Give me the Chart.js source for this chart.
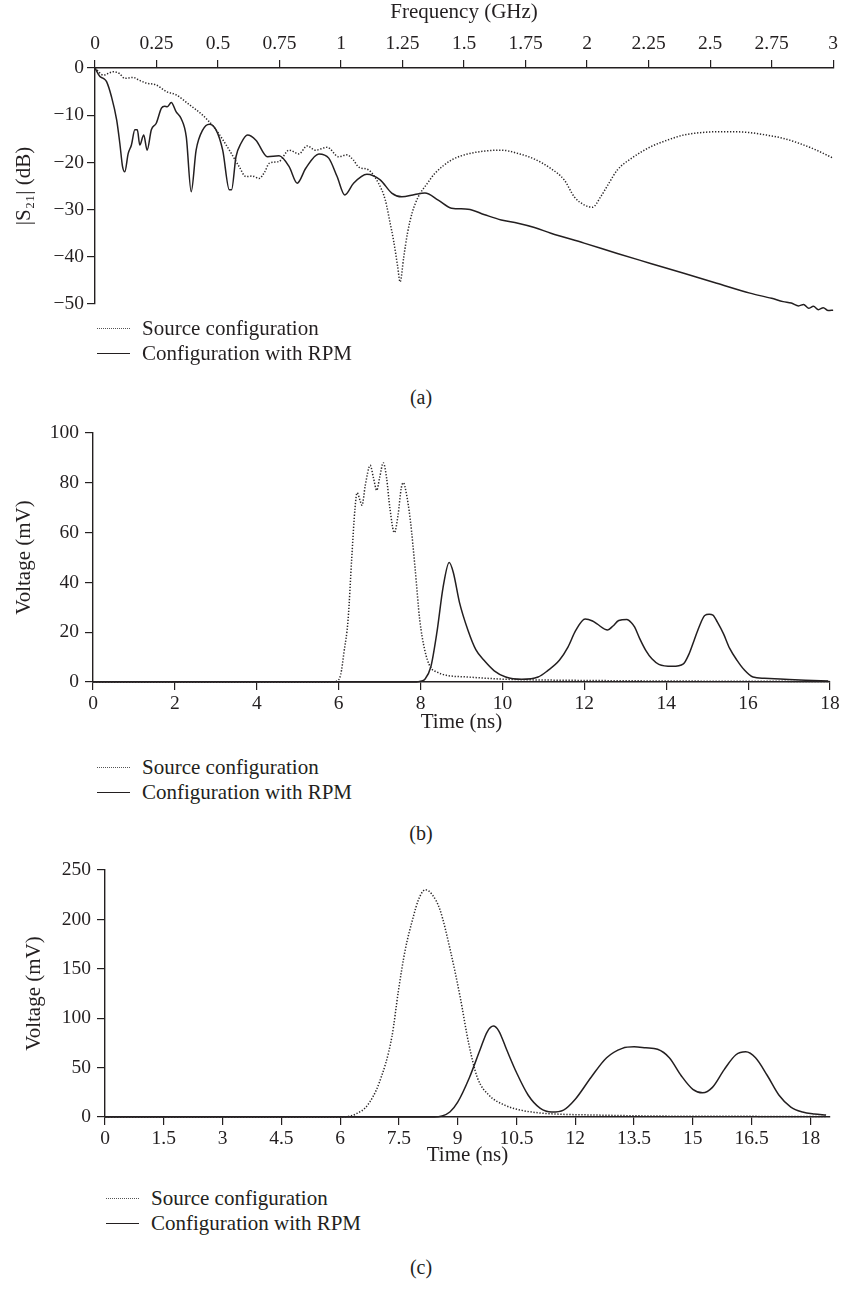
<!DOCTYPE html>
<html>
<head>
<meta charset="utf-8">
<script src="https://cdn.jsdelivr.net/npm/chart.js@4.4.1/dist/chart.umd.min.js"></script>
<style>
  body { margin: 0; background: #fff; }
  #page { position: relative; width: 842px; height: 1291px; font-family: "Liberation Serif", "DejaVu Serif", serif; color: #231f20; }
  canvas { position: absolute; left: 0; }
  .leg { position: absolute; font-size: 21px; line-height: 25px; white-space: nowrap; }
  .leg .row { position: relative; height: 25px; }
  .leg .smp { position: absolute; left: 0; top: 12px; width: 33px; }
  .leg .dot { border-top: 1.5px dotted #555; }
  .leg .sol { border-top: 1.3px solid #231f20; }
  .leg .txt { position: absolute; left: 45px; top: 0; }
  .cap { position: absolute; left: 371px; width: 100px; text-align: center; font-size: 20px; line-height: 25px; }
</style>
</head>
<body>
<div id="page">
  <canvas id="chartA" width="842" height="320" style="top:0"></canvas>
  <canvas id="chartB" width="842" height="330" style="top:410px"></canvas>
  <canvas id="chartC" width="842" height="320" style="top:850px"></canvas>

  <div class="leg" style="left:97px;top:316px">
    <div class="row"><div class="smp dot"></div><span class="txt">Source configuration</span></div>
    <div class="row"><div class="smp sol"></div><span class="txt">Configuration with RPM</span></div>
  </div>
  <div class="cap" style="top:385px">(a)</div>

  <div class="leg" style="left:97px;top:755px">
    <div class="row"><div class="smp dot"></div><span class="txt">Source configuration</span></div>
    <div class="row"><div class="smp sol"></div><span class="txt">Configuration with RPM</span></div>
  </div>
  <div class="cap" style="top:821px">(b)</div>

  <div class="leg" style="left:106px;top:1186px">
    <div class="row"><div class="smp dot"></div><span class="txt">Source configuration</span></div>
    <div class="row"><div class="smp sol"></div><span class="txt">Configuration with RPM</span></div>
  </div>
  <div class="cap" style="top:1255px">(c)</div>
</div>

<script>
const INK = "#231f20";
const FONT = "'Liberation Serif', 'DejaVu Serif', serif";

// (a) |S21| vs frequency
const freqTicks = [0, 0.25, 0.5, 0.75, 1, 1.25, 1.5, 1.75, 2, 2.25, 2.5, 2.75, 3];
const s21Ticks = [0, -10, -20, -30, -40, -50];

const srcFreq = [0, 0.034, 0.074, 0.1, 0.121, 0.155, 0.18, 0.209, 0.249, 0.29, 0.33, 0.384, 0.438, 0.492,
  0.546, 0.586, 0.613, 0.64, 0.667, 0.69, 0.708, 0.748, 0.789, 0.829, 0.862, 0.896, 0.944, 0.99, 1.024,
  1.05, 1.072, 1.112, 1.152, 1.18, 1.2, 1.213, 1.23, 1.24, 1.255, 1.27, 1.29, 1.314, 1.35, 1.382, 1.449,
  1.516, 1.584, 1.651, 1.719, 1.786, 1.853, 1.907, 1.948, 1.988, 2.022, 2.055, 2.09, 2.123, 2.19, 2.258,
  2.325, 2.393, 2.46, 2.527, 2.595, 2.662, 2.729, 2.797, 2.864, 2.932, 3.0];
const srcS21 = [0, -1.5, -0.8, -1.2, -2.2, -2.0, -2.6, -3.2, -3.6, -5.0, -5.7, -7.8, -10, -13.1,
  -17.4, -20.9, -23, -22.9, -23.4, -22, -20.2, -19.8, -17.4, -18.2, -16.5, -17.4, -16.8, -18.8, -18.4,
  -19.5, -21, -21.6, -24.4, -28, -33, -36.4, -42, -45.3, -40, -35, -30.5, -27.3, -24.5, -22.3, -19.5,
  -18.2, -17.6, -17.4, -18.1, -19.3, -21.3, -23.7, -27.3, -29, -29.5, -27.3, -24.3, -21.6, -18.8, -16.7,
  -15.3, -14.2, -13.7, -13.5, -13.5, -13.7, -14.2, -14.9, -16, -17.4, -19.1];

const rpmFreq = [0, 0.02, 0.034, 0.047, 0.067, 0.088, 0.101, 0.112, 0.121, 0.135, 0.148, 0.162, 0.172,
  0.182, 0.198, 0.212, 0.229, 0.249, 0.27, 0.283, 0.294, 0.31, 0.33, 0.35, 0.371, 0.391, 0.411, 0.438,
  0.465, 0.492, 0.519, 0.546, 0.555, 0.573, 0.593, 0.62, 0.654, 0.701, 0.748, 0.789, 0.822, 0.856, 0.91,
  0.95, 0.984, 1.015, 1.051, 1.105, 1.159, 1.206, 1.247, 1.3, 1.341, 1.395, 1.449, 1.516, 1.584, 1.651,
  1.719, 1.786, 1.853, 1.988, 2.123, 2.258, 2.393, 2.527, 2.662, 2.75, 2.797, 2.83, 2.86, 2.88, 2.9,
  2.92, 2.94, 2.96, 2.98, 3.0];
const rpmS21 = [0, -1.8, -2.2, -2.9, -6.1, -11, -16, -20.9, -22, -18.1, -16.3, -13.1, -13.1,
  -16.3, -14.2, -17.4, -13.1, -11.7, -8.5, -8.1, -8.2, -7.3, -9.3, -10.7, -14.6, -26.2, -17.4, -13.1,
  -11.9, -13.1, -17.4, -25.8, -25.8, -18.8, -16, -14.2, -15.3, -18.8, -18.6, -20.9, -24.4, -21.3, -18.2,
  -19.1, -23, -26.9, -24.4, -22.5, -23.7, -26.5, -27.3, -26.8, -26.5, -28, -29.7, -29.9, -31.1, -32.2,
  -32.9, -33.8, -35, -37.1, -39.3, -41.4, -43.5, -45.6, -47.7, -48.8, -49.5, -49.8, -50.4, -50.1, -50.9,
  -50.5, -51.2, -50.8, -51.4, -51.3];

// (b) voltage vs time
const timeTicksB = [0, 2, 4, 6, 8, 10, 12, 14, 16, 18];
const voltTicksB = [0, 20, 40, 60, 80, 100];

const srcTimeB = [0, 5.8, 5.95, 6.05, 6.13, 6.23, 6.32, 6.4, 6.45, 6.52, 6.57, 6.65, 6.77, 6.85, 6.93,
  7.0, 7.09, 7.17, 7.25, 7.36, 7.45, 7.53, 7.58, 7.65, 7.75, 7.87, 7.98, 8.1, 8.24, 8.4, 8.63, 9.16,
  10.08, 11, 12.2, 14, 16, 18];
const srcVoltB = [0, 0, 0.3, 3, 12, 25, 50, 70, 76, 73, 71, 79, 87, 82, 77,
  82, 88, 82, 70, 60, 67, 78, 80, 76, 65, 45, 25, 13, 6, 4, 2.7, 2,
  1.1, 0.8, 0.6, 0.4, 0.3, 0.2];

const rpmTimeB = [0, 7.9, 8.0, 8.1, 8.25, 8.4, 8.55, 8.7, 8.8, 8.95, 9.16, 9.35, 9.55, 9.8, 10.08,
  10.47, 10.87, 11.1, 11.39, 11.6, 11.79, 12.02, 12.2, 12.31, 12.57, 12.7, 12.84, 13.04, 13.15, 13.23,
  13.35, 13.5, 13.65, 13.82, 14.15, 14.42, 14.55, 14.68, 14.8, 14.94, 15.05, 15.14, 15.25, 15.4, 15.55,
  15.73, 15.9, 16.12, 16.4, 16.78, 17.4, 17.96];
const rpmVoltB = [0, 0, 0.3, 1, 6, 20, 38, 48, 44, 32, 20.7, 13, 8.7, 4.5, 2,
  1.1, 2, 4.5, 8.7, 14, 20.7, 25.3, 24.5, 23.3, 20.9, 22.5, 24.7, 25.1, 23.8, 22,
  17.5, 12.7, 9.3, 7.1, 6.3, 7.3, 11, 16.7, 22, 26.7, 27.2, 26.9, 24, 19.3, 13.5,
  8.7, 5, 2, 1.5, 1.2, 0.7, 0.4];

// (c) voltage vs time
const timeTicksC = [0, 1.5, 3, 4.5, 6, 7.5, 9, 10.5, 12, 13.5, 15, 16.5, 18];
const voltTicksC = [0, 50, 100, 150, 200, 250];

const srcTimeC = [0, 6.0, 6.2, 6.4, 6.7, 7.0, 7.32, 7.49, 7.66, 7.87, 8.0, 8.17, 8.35, 8.55, 8.81,
  9.06, 9.28, 9.5, 9.8, 10.2, 10.6, 11.0, 11.5, 12.5, 14, 16, 18.4];
const srcVoltC = [0, 0, 0.5, 3, 12, 35, 81, 128.5, 169, 203, 220, 230, 225, 209.5, 169,
  122, 74.6, 40, 22, 12, 7, 4.5, 3, 2, 1, 0.7, 0.5];

const rpmTimeC = [0, 8.4, 8.6, 8.8, 9.0, 9.3, 9.57, 9.75, 9.91, 10.05, 10.25, 10.5, 10.8, 11.1, 11.4,
  11.7, 12.0, 12.4, 12.8, 13.2, 13.5, 13.8, 14.1, 14.4, 14.7, 15.0, 15.25, 15.5, 15.8, 16.1, 16.35,
  16.6, 16.9, 17.2, 17.5, 17.8, 18.1, 18.4];
const rpmVoltC = [0, 0, 1, 5, 15, 40, 68, 86, 92, 87, 68, 45, 22, 9, 5,
  7, 18, 40, 60, 69.5, 71, 70, 68.5, 60, 42, 28, 24.5, 30, 48, 63, 66,
  60, 42, 22, 10, 5, 3, 2];

const fmt = v => String(v).replace("-", "\u2212");

function pts(xs, ys) {
  return xs.map((x, i) => ({ x: x, y: ys[i] }));
}

function lineSet(label, xs, ys, dotted) {
  return {
    label: label,
    data: pts(xs, ys),
    borderColor: dotted ? "#2a2627" : INK,
    borderWidth: 1.5,
    borderDash: dotted ? [1.3, 1.7] : [],
    pointRadius: 0,
    cubicInterpolationMode: "monotone",
    fill: false,
    clip: false
  };
}

function axis(o) {
  return {
    type: "linear",
    position: o.pos,
    min: o.min,
    max: o.max,
    afterBuildTicks: s => { s.ticks = o.ticks.map(v => ({ value: v })); },
    afterFit: s => { if (o.w) s.width = o.w; if (o.h) s.height = o.h; },
    grid: { display: true, drawOnChartArea: false, drawTicks: true, tickLength: 8, color: INK, lineWidth: 1.2 },
    border: { display: true, color: INK, width: 1.4 },
    ticks: { color: INK, font: { family: FONT, size: 19.5 }, padding: o.pad, maxRotation: 0, autoSkip: false, callback: v => fmt(v) },
    title: { display: true, text: o.title, color: INK, font: { family: FONT, size: 21 }, padding: { top: o.tpad, bottom: o.tpad } }
  };
}

function makeChart(id, sets, x, y, padding) {
  return new Chart(document.getElementById(id), {
    type: "line",
    data: { datasets: sets },
    options: {
      responsive: false,
      animation: false,
      devicePixelRatio: 1,
      layout: { padding: padding },
      plugins: { legend: { display: false }, tooltip: { enabled: false } },
      scales: { x: x, y: y }
    }
  });
}

makeChart("chartA",
  [lineSet("Source configuration", srcFreq, srcS21, true), lineSet("Configuration with RPM", rpmFreq, rpmS21, false)],
  axis({ pos: "top", min: 0, max: 3, ticks: freqTicks, h: 68, pad: 4, title: "Frequency (GHz)", tpad: 0 }),
  axis({ pos: "left", min: -50, max: 0, ticks: s21Ticks, w: 95, pad: 3, title: "|S\u2082\u2081| (dB)", tpad: 12 }),
  { top: 0, left: 0, right: 5, bottom: 16 });

makeChart("chartB",
  [lineSet("Source configuration", srcTimeB, srcVoltB, true), lineSet("Configuration with RPM", rpmTimeB, rpmVoltB, false)],
  axis({ pos: "bottom", min: 0, max: 18, ticks: timeTicksB, h: 58, pad: 2, title: "Time (ns)", tpad: 5 }),
  axis({ pos: "left", min: 0, max: 100, ticks: voltTicksB, w: 93, pad: 6, title: "Voltage (mV)", tpad: 12 }),
  { top: 23, left: 0, right: 12, bottom: 0 });

makeChart("chartC",
  [lineSet("Source configuration", srcTimeC, srcVoltC, true), lineSet("Configuration with RPM", rpmTimeC, rpmVoltC, false)],
  axis({ pos: "bottom", min: 0, max: 18.5, ticks: timeTicksC, h: 53, pad: 2, title: "Time (ns)", tpad: 2 }),
  axis({ pos: "left", min: 0, max: 250, ticks: voltTicksC, w: 105, pad: 6, title: "Voltage (mV)", tpad: 22 }),
  { top: 20, left: 0, right: 12, bottom: 0 });
</script>
</body>
</html>
